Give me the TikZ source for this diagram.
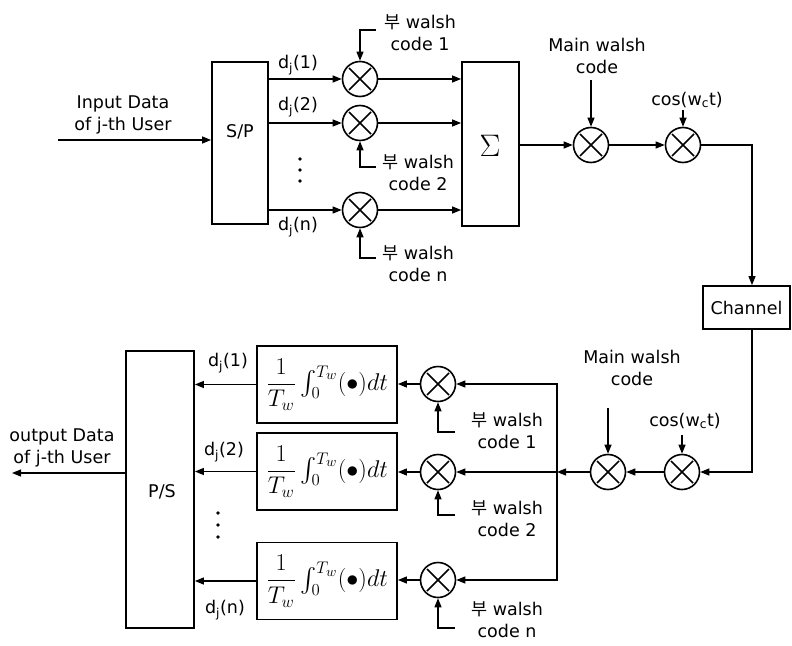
\documentclass[tikz,border=0pt]{standalone}
\usepackage{amsmath}
\usepackage{graphicx}
\usepackage{fontspec}
\setmainfont{DejaVu Sans}
\newfontfamily\kr{Noto Sans CJK KR}
\usetikzlibrary{arrows.meta}
\newcommand{\integform}{\scalebox{1.4}{$\dfrac{1}{T_w}\,{\textstyle\int_0^{T_w}}(\bullet)dt$}}
\begin{document}
\begin{tikzpicture}[x=1pt,y=-1pt,
  every node/.style={font=\fontsize{17.5}{22}\selectfont, inner sep=0pt},
  blk/.style={draw, line width=1.8pt, rectangle},
  mult/.style={draw, circle, line width=1.6pt, minimum size=35pt, path picture={
     \draw[line width=1.6pt] ([shift={(-11pt,-11pt)}]path picture bounding box.center) -- ([shift={(11pt,11pt)}]path picture bounding box.center);
     \draw[line width=1.6pt] ([shift={(-11pt,11pt)}]path picture bounding box.center) -- ([shift={(11pt,-11pt)}]path picture bounding box.center);}},
  sig/.style={line width=1.2pt, -{Triangle[length=9pt,width=7pt]}},
  wire/.style={line width=1.2pt},
  lbl/.style={align=center},
  integ/.style={blk, minimum width=140pt, minimum height=77pt, font=\fontsize{17.28}{20}\selectfont}
]
\useasboundingbox (0,0) rectangle (792,645);

% ---------------- transmitter ----------------
\node[blk, minimum width=56pt, minimum height=162pt] (sp) at (240,143) {};
\node (sptxt) at (240,132) {S/P};
\node[lbl] (intxt) at (123,115) {Input Data\\of j-th User};
\coordinate (in) at (58,140);
\draw[sig] (in) -- (in -| sp.west);

\node[mult] (m1) at (360,79) {};
\node[mult] (m2) at (360,123) {};
\node[mult] (mn) at (360,210) {};
\draw[sig] (sp.east |- m1) -- (m1);
\draw[sig] (sp.east |- m2) -- (m2);
\draw[sig] (sp.east |- mn) -- (mn);
\node (d1) at (298,65) {d\textsubscript{j}(1)};
\node (d2) at (298,107) {d\textsubscript{j}(2)};
\node (dn) at (298,227) {d\textsubscript{j}(n)};
\fill (300,159) circle (1.8pt) (300,170) circle (1.8pt) (300,181) circle (1.8pt);

\coordinate (w1) at (376,30);
\coordinate (w2) at (376,167);
\coordinate (wn) at (376,258);
\draw[sig] (w1) -| (m1);
\draw[sig] (w2) -| (m2);
\draw[sig] (wn) -| (mn);
\node[lbl] (w1t) at (420,32.5) {{\kr 부} walsh\\code 1};
\node[lbl] (w2t) at (418,172.5) {{\kr 부} walsh\\code 2};
\node[lbl] (wnt) at (418,264) {{\kr 부} walsh\\code n};

\node[blk, minimum width=57pt, minimum height=164pt] (sum) at (490.5,144) {};
\node (sumtxt) at (490,146) {\fontsize{17.28}{20}\selectfont\scalebox{1.8}{$\Sigma$}};
\draw[sig] (m1) -- (m1 -| sum.west);
\draw[sig] (m2) -- (m2 -| sum.west);
\draw[sig] (mn) -- (mn -| sum.west);

\node[mult] (M1) at (591,145) {};
\node[mult] (C1) at (683,145) {};
\draw[sig] (sum.east |- M1) -- (M1);
\draw[sig] (M1) -- (C1);
\coordinate (mw1) at (591,80);
\draw[sig] (mw1) -- (M1);
\node[lbl] (mw1t) at (597,56) {Main walsh\\code};
\coordinate (cs1) at (683,110);
\draw[sig] (cs1) -- (C1);
\node (cs1t) at (687,100) {cos(w\textsubscript{c}t)};

\node[blk, minimum width=87pt, minimum height=43pt] (ch) at (746.5,307.5) {Channel};
\coordinate (chline) at (752,0);
\draw[sig] (C1) -| (ch.north -| chline);

% ---------------- receiver ----------------
\node[mult] (C2) at (682,472) {};
\node[mult] (M2) at (608,472) {};
\draw[sig] (ch.south -| chline) |- (C2);
\draw[sig] (C2) -- (M2);
\coordinate (cs2) at (682,435);
\draw[sig] (cs2) -- (C2);
\node (cs2t) at (685,421) {cos(w\textsubscript{c}t)};
\coordinate (mw2) at (608,408);
\draw[sig] (mw2) -- (M2);
\node[lbl] (mw2t) at (632,368) {Main walsh\\code};

\node[mult] (R1) at (438,384) {};
\node[mult] (R2) at (438,472) {};
\node[mult] (Rn) at (438,580) {};
\coordinate (bm) at (557,472);
\draw[sig] (M2) -- (bm);
\draw[sig] (bm) |- (R1);
\draw[sig] (bm) -- (R2);
\draw[sig] (bm) |- (Rn);

\coordinate (v1) at (455,432);
\coordinate (v2) at (455,515);
\coordinate (vn) at (455,628);
\draw[sig] (v1) -| (R1);
\draw[sig] (v2) -| (R2);
\draw[sig] (vn) -| (Rn);
\node[lbl] (v1t) at (507,431) {{\kr 부} walsh\\code 1};
\node[lbl] (v2t) at (507,518.5) {{\kr 부} walsh\\code 2};
\node[lbl] (vnt) at (507,620) {{\kr 부} walsh\\code n};

\node[integ] (I1) at (327,384.5) {\integform};
\node[integ] (I2) at (327,471.5) {\integform};
\node[integ] (In) at (327,581) {\integform};
\draw[sig] (R1) -- (R1 -| I1.east);
\draw[sig] (R2) -- (R2 -| I2.east);
\draw[sig] (Rn) -- (Rn -| In.east);

\node[blk, minimum width=68pt, minimum height=277pt] (ps) at (160,489.5) {};
\node (pstxt) at (162,492) {P/S};
\draw[sig] (I1.west) -- (I1.west -| ps.east);
\draw[sig] (I2.west) -- (I2.west -| ps.east);
\draw[sig] (In.west) -- (In.west -| ps.east);
\node (e1) at (228,363) {d\textsubscript{j}(1)};
\node (e2) at (224,452) {d\textsubscript{j}(2)};
\node (en) at (225,610) {d\textsubscript{j}(n)};
\fill (218,513) circle (1.8pt) (218,525) circle (1.8pt) (218,537) circle (1.8pt);

\coordinate (out) at (12,473);
\draw[sig] (ps.west |- out) -- (out);
\node[lbl] (outt) at (62,447.5) {output Data\\of j-th User};
\end{tikzpicture}
\end{document}
